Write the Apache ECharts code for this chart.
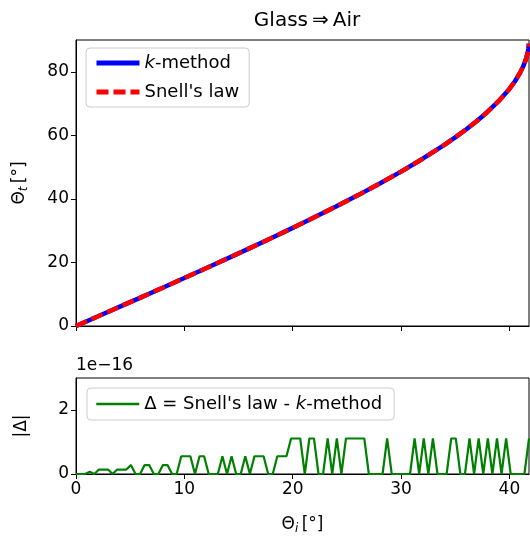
<!DOCTYPE html>
<html>
<head>
<meta charset="utf-8">
<script src="https://cdn.jsdelivr.net/npm/echarts@6/dist/echarts.min.js"></script>
<style>
  html, body { margin: 0; padding: 0; background: #fff; }
  #chart { width: 530px; height: 537px; }
</style>
</head>
<body>
<div id="chart"></div>
<script>
// incidence angle samples for the top panel (deg)
const thetaI = [0, 2, 4, 6, 8, 10, 12, 14, 16, 18, 20, 22, 24, 26, 28, 30, 32, 34, 35, 36, 37, 38, 39, 40, 40.5, 41, 41.3, 41.5, 41.6, 41.7, 41.75, 41.8];
// transmitted angle (deg)
const thetaT = [0, 3.0, 6.01, 9.02, 12.05, 15.1, 18.17, 21.28, 24.42, 27.62, 30.87, 34.19, 37.6, 41.11, 44.76, 48.59, 52.64, 57.01, 59.36, 61.85, 64.52, 67.44, 70.73, 74.6, 76.95, 79.77, 81.89, 83.68, 84.8, 86.24, 87.22, 88.85];

// |difference| in units of 1e-16, 100 samples over 0..41.8 deg
const delta = [
  0, 0, 0, 0.069, 0, 0.139, 0.139, 0.139, 0, 0.139,
  0.139, 0.139, 0.278, 0, 0, 0.278, 0.278, 0, 0, 0.278,
  0.278, 0, 0, 0.555, 0.555, 0.555, 0, 0.555, 0.555, 0,
  0, 0, 0.555, 0, 0.555, 0, 0, 0.555, 0, 0.555,
  0.555, 0.555, 0, 0, 0.555, 0.555, 0.555, 1.11, 1.11, 1.11,
  0, 1.11, 1.11, 0, 0, 1.11, 0, 1.11, 0, 1.11,
  1.11, 1.11, 1.11, 1.11, 0, 0, 0, 0, 1.11, 0,
  0, 0, 0, 0, 1.11, 0, 1.11, 0, 1.11, 0,
  0, 0, 1.11, 1.11, 0, 0, 1.11, 0, 1.11, 0,
  1.11, 0, 1.11, 0, 1.11, 0, 0, 0, 0, 1.11
];
const xMax = 41.81;
const xTicks = [0, 10, 20, 30, 40];
const yTopTicks = [0, 20, 40, 60, 80];
const yBotTicks = [0, 2];

const font = 'DejaVu Sans';
const fs = 17;
const curve = thetaI.map((x, i) => [x, thetaT[i]]);
const diff = delta.map((v, i) => [i * xMax / (delta.length - 1), v]);

const axisCommon = {
  axisLine: { show: true, onZero: false, lineStyle: { color: '#000', width: 1 } },
  splitLine: { show: false }
};
const tick = (vals) => ({ show: true, length: 5, customValues: vals, lineStyle: { color: '#000' } });
const label = (vals) => ({ color: '#000', fontFamily: font, fontSize: fs, margin: 7, customValues: vals });
const angleName = {
  color: '#000',
  rich: {
    a: { fontFamily: font, fontSize: fs, color: '#000' },
    s: { fontFamily: font, fontSize: 12, fontStyle: 'italic', color: '#000', padding: [9, 0, 0, 0] }
  }
};
const legendText = {
  fontFamily: font, fontSize: 18, color: '#000',
  rich: { i: { fontFamily: font, fontSize: 18, fontStyle: 'italic', color: '#000' } }
};

const chart = echarts.init(document.getElementById('chart'), null, { renderer: 'canvas' });
chart.setOption({
  animation: false,
  backgroundColor: '#fff',
  title: {
    text: 'Glass\u2009\u21D2\u2009Air',
    left: 302, top: 6, textAlign: 'center',
    textStyle: { fontFamily: font, fontSize: 20, fontWeight: 'normal', color: '#000' }
  },
  grid: [
    { left: 76, top: 40, width: 453, height: 286, show: true, borderColor: '#000', borderWidth: 1, backgroundColor: 'transparent' },
    { left: 76, top: 378, width: 453, height: 96, show: true, borderColor: '#000', borderWidth: 1, backgroundColor: 'transparent' }
  ],
  xAxis: [
    Object.assign({}, axisCommon, {
      type: 'value', gridIndex: 0, min: 0, max: xMax,
      axisTick: tick(xTicks), axisLabel: { show: false }
    }),
    Object.assign({}, axisCommon, {
      type: 'value', gridIndex: 1, min: 0, max: xMax,
      axisTick: tick(xTicks), axisLabel: label(xTicks),
      name: '{a|\u0398}{s|i} {a|[\u00B0]}',
      nameLocation: 'middle', nameGap: 40, nameTextStyle: angleName
    })
  ],
  yAxis: [
    Object.assign({}, axisCommon, {
      type: 'value', gridIndex: 0, min: 0, max: 90,
      axisTick: tick(yTopTicks), axisLabel: label(yTopTicks),
      name: '{a|\u0398}{s|t} {a|[\u00B0]}',
      nameLocation: 'middle', nameGap: 46, nameRotate: 90, nameTextStyle: angleName
    }),
    Object.assign({}, axisCommon, {
      type: 'value', gridIndex: 1, min: 0, max: 3,
      axisTick: tick(yBotTicks), axisLabel: label(yBotTicks),
      name: '|\u0394|',
      nameLocation: 'middle', nameGap: 46, nameRotate: 90,
      nameTextStyle: { color: '#000', fontFamily: font, fontSize: fs }
    })
  ],
  legend: [
    {
      data: ['k-method', "Snell's law"],
      orient: 'vertical', left: 86, top: 48,
      itemWidth: 43, itemHeight: 14, itemGap: 11,
      padding: [6, 10, 6, 8],
      backgroundColor: 'rgba(255,255,255,0.8)',
      borderColor: '#ccc', borderWidth: 1, borderRadius: 4,
      itemStyle: { opacity: 0 },
      lineStyle: { width: 5 },
      formatter: (n) => n === 'k-method' ? '{i|k}-method' : n,
      textStyle: legendText
    },
    {
      data: ['delta'],
      left: 87, top: 388,
      itemWidth: 43, itemHeight: 14,
      padding: [7, 12, 7, 8],
      backgroundColor: 'rgba(255,255,255,0.8)',
      borderColor: '#ccc', borderWidth: 1, borderRadius: 4,
      itemStyle: { opacity: 0 },
      lineStyle: { width: 2.5 },
      formatter: () => "\u0394 = Snell's law - {i|k}-method",
      textStyle: legendText
    }
  ],
  graphic: [
    {
      type: 'text', left: 76, top: 357,
      style: { text: '1e\u221216', font: fs + 'px "DejaVu Sans"', fill: '#000' }
    }
  ],
  series: [
    {
      name: 'k-method', type: 'line', xAxisIndex: 0, yAxisIndex: 0,
      data: curve, showSymbol: false, symbol: 'none',
      lineStyle: { color: '#0000ff', width: 4.5 }, itemStyle: { color: '#0000ff' }
    },
    {
      name: "Snell's law", type: 'line', xAxisIndex: 0, yAxisIndex: 0,
      data: curve, showSymbol: false, symbol: 'none',
      lineStyle: { color: '#ff0000', width: 4.5, type: [12, 5] }, itemStyle: { color: '#ff0000' }
    },
    {
      name: 'delta', type: 'line', xAxisIndex: 1, yAxisIndex: 1,
      data: diff, showSymbol: false, symbol: 'none',
      lineStyle: { color: '#008000', width: 2.2 }, itemStyle: { color: '#008000' }
    }
  ]
});
</script>
</body>
</html>
